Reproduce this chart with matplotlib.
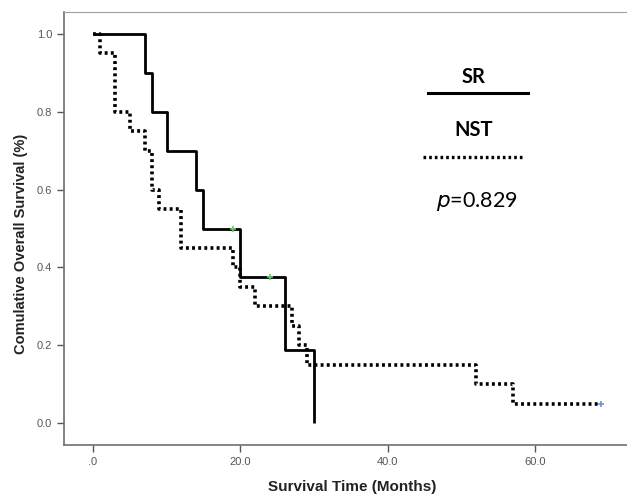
import numpy as np
import matplotlib.pyplot as plt
from matplotlib.lines import Line2D

# Kaplan-Meier step data
sr_time = [0, 7, 8, 10, 14, 15, 20, 26, 30]
sr_surv = [1.0, 0.9, 0.8, 0.7, 0.6, 0.5, 0.375, 0.1875, 0.0]
sr_cens_time = [19, 24]
sr_cens_surv = [0.5, 0.375]

nst_time = [0, 1, 3, 5, 7, 8, 9, 12, 19, 20, 22, 27, 28, 29, 52, 57, 69]
nst_surv = [1.0, 0.95, 0.8, 0.75, 0.7, 0.6, 0.55, 0.45, 0.4, 0.35, 0.3,
            0.25, 0.2, 0.15, 0.10, 0.05, 0.05]
nst_cens_time = [69]
nst_cens_surv = [0.05]

xticks = [0, 20, 40, 60]
xtick_labels = ['.0', '20.0', '40.0', '60.0']
yticks = [0.0, 0.2, 0.4, 0.6, 0.8, 1.0]
ytick_labels = ['0.0', '0.2', '0.4', '0.6', '0.8', '1.0']

W, H = 627, 495
fig = plt.figure(figsize=(W / 100, H / 100), dpi=100)
ax = fig.add_axes([64 / W, 50 / H, 1 - 64 / W, 433 / H])

ax.step(sr_time, sr_surv, where='post', color='black', lw=2.0, solid_capstyle='butt')
ax.step(nst_time, nst_surv, where='post', color='black', lw=2.6,
        linestyle=(0, (0.8, 0.9)))
ax.plot(sr_cens_time, sr_cens_surv, '+', color='#66cc66', ms=5, mew=1.2)
ax.plot(nst_cens_time, nst_cens_surv, '+', color='#6b95d9', ms=5, mew=1.2)

ax.set_xlim(-3.94, 72.5)
ax.set_ylim(-0.0556, 1.0556)
ax.set_xticks(xticks, xtick_labels)
ax.set_yticks(yticks, ytick_labels)
ax.tick_params(direction='out', length=5, width=1, color='#555555',
               labelcolor='#555555', labelsize=8)
for lab in ax.get_xticklabels() + ax.get_yticklabels():
    lab.set_family('Liberation Sans')

ax.spines['right'].set_visible(False)
ax.spines['top'].set_color('#a0a0a0')
for s in ('left', 'bottom'):
    ax.spines[s].set_color('#707070')
    ax.spines[s].set_linewidth(1.2)

ax.set_xlabel('Survival Time (Months)', fontsize=11, fontweight='bold',
              family='Liberation Sans', color='#222222')
ax.xaxis.set_label_coords(0.511, -0.080)
ax.set_ylabel('Comulative Overall Survival (%)', fontsize=10.5, fontweight='bold',
              family='Liberation Sans', color='#222222', va='center')
ax.yaxis.set_label_coords(-0.0764, 0.464)

# annotation block (legend drawn by hand, as in the source)
ax.text(0.728, 0.850, 'SR', transform=ax.transAxes, ha='center', va='center',
        fontsize=14.5, fontweight='bold', family='Lato')
ax.add_line(Line2D([0.6465, 0.824], [0.8136, 0.8136], transform=ax.transAxes,
                   color='black', lw=2.2))
ax.text(0.728, 0.7275, 'NST', transform=ax.transAxes, ha='center', va='center',
        fontsize=14.5, fontweight='bold', family='Lato')
ax.add_line(Line2D([0.6377, 0.815], [0.6658, 0.6658], transform=ax.transAxes,
                   color='black', lw=2.4, linestyle=(0, (0.8, 0.9))))
ax.text(0.7336, 0.5619, r'$\it{p}$=0.829', transform=ax.transAxes, ha='center',
        va='center', fontsize=15.5, family='Lato')

fig.savefig('out.png', dpi=100)
